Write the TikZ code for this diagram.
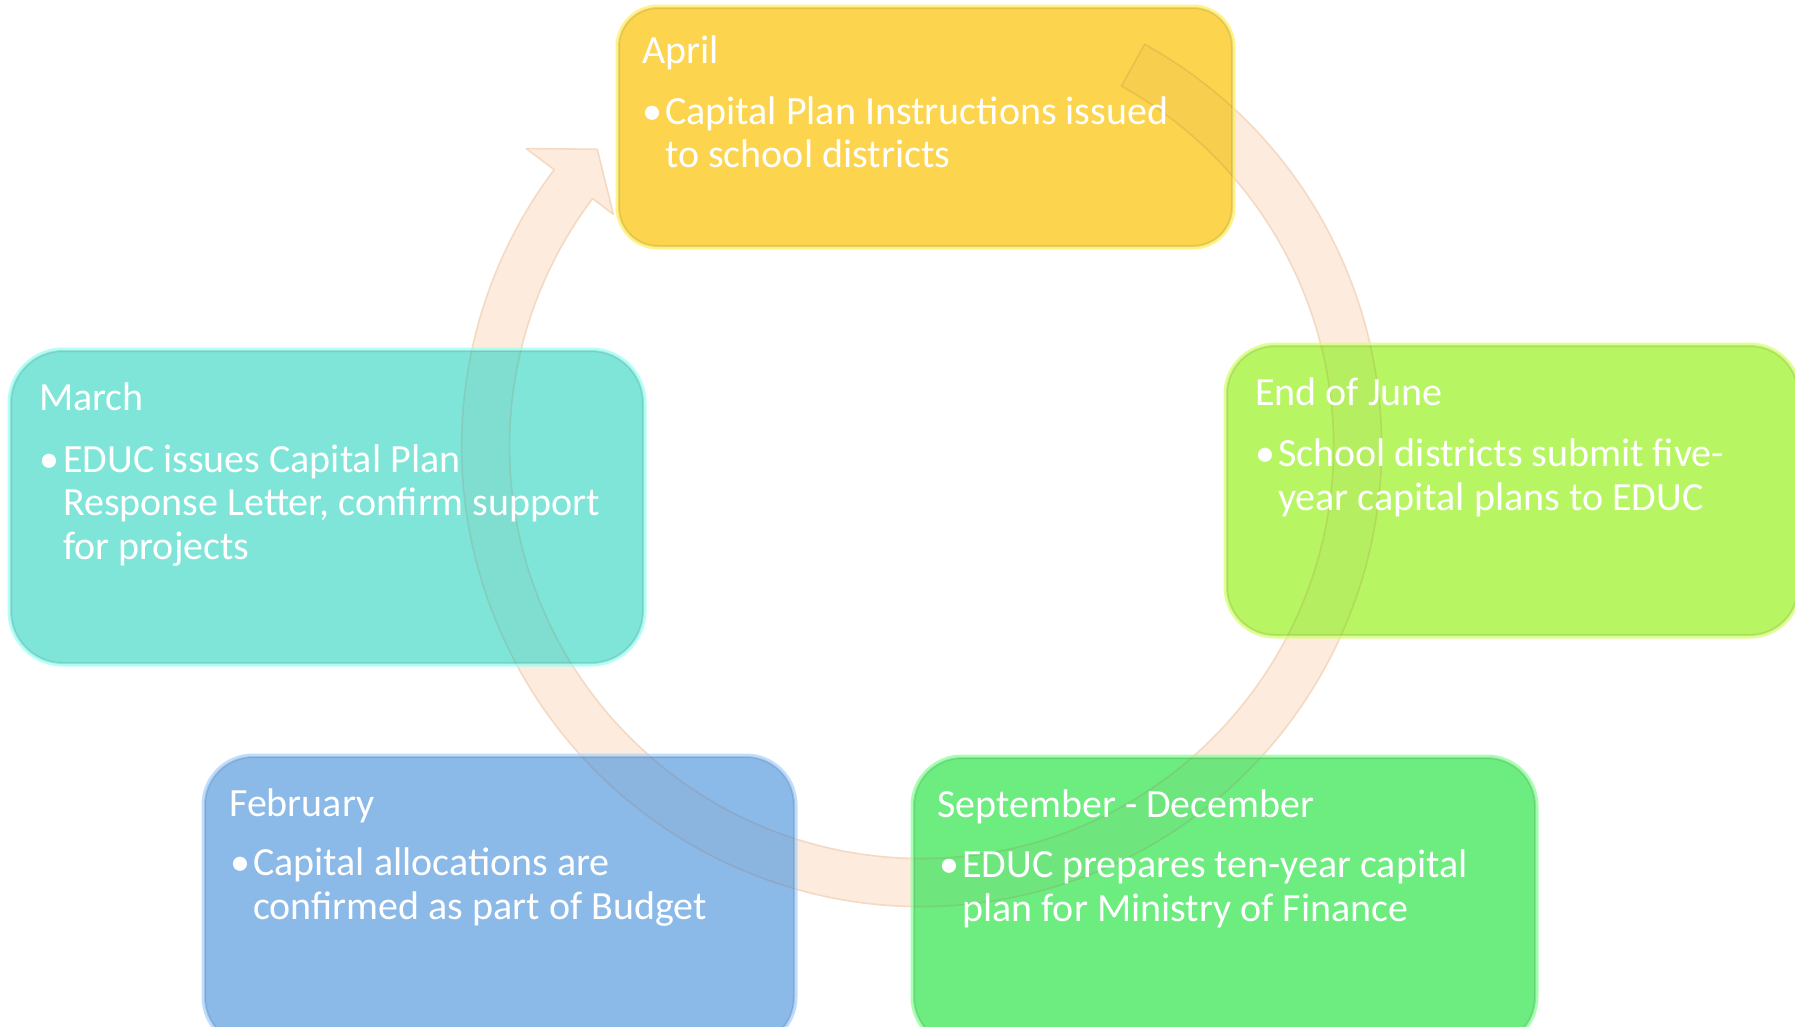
\documentclass[tikz,border=0pt]{standalone}
\usepackage{fontspec}
\setmainfont{Carlito}
\usetikzlibrary{calc}
\definecolor{aprilc}{HTML}{FCD44E}
\definecolor{aprilg}{HTML}{FFEF60}
\definecolor{marchc}{HTML}{7FE5D8}
\definecolor{marchg}{HTML}{98FFF4}
\definecolor{junec}{HTML}{B7F662}
\definecolor{juneg}{HTML}{D6FF70}
\definecolor{sepc}{HTML}{6DEC80}
\definecolor{sepg}{HTML}{8CFF9C}
\definecolor{febc}{HTML}{8BB9E8}
\definecolor{febg}{HTML}{A8D4FF}
\definecolor{arcfill}{HTML}{FDECDE}
\definecolor{arcedge}{HTML}{F4D9C3}
\definecolor{arcdark}{HTML}{9A6A48}
\begin{document}
\begin{tikzpicture}[x=1pt,y=1pt,
  card/.style={fill=#1c, draw=#1c!70!black, draw opacity=0.3, line width=2pt,
    inner sep=0pt, outer sep=0pt,
    preaction={draw=#1g, line width=7pt, draw opacity=0.75}},
  ttl/.style={anchor=base west, inner sep=0pt, text=white, font=\fontsize{40}{44}\selectfont},
  ring/.style={fill=arcfill, draw=arcedge, line width=1.6pt, line join=round}]
\clip (0,0) rectangle (1795,-1026);
\fill[white] (0,0) rectangle (1795,-1026);
\coordinate (C) at (921.6,-446.5);
% circular arrow
\path[ring] ($(C)+(61:460pt)$) arc[start angle=61, end angle=-217, radius=460pt]
  -- ($(C)+(143:495pt)$) -- ($(C)+(137.5:440pt)$) -- ($(C)+(143:386pt)$)
  -- ($(C)+(143:412pt)$) arc[start angle=143, end angle=421, radius=412pt] -- cycle;
% boxes
\node[card=april, rounded corners=39pt, minimum width=613pt, minimum height=238pt] (april) at (925.5,-127) {};
\node[card=march, rounded corners=52pt, minimum width=632pt, minimum height=312pt] (march) at (327,-507) {};
\node[card=june, rounded corners=48pt, minimum width=571pt, minimum height=289pt] (june) at (1512.5,-490.5) {};
\node[card=feb, rounded corners=48pt, minimum width=589pt, minimum height=288pt] (feb) at (499.5,-901) {};
\node[card=sep, rounded corners=48pt, minimum width=621pt, minimum height=287pt] (sep) at (1224.5,-901.5) {};
% arc showing through boxes
\begin{scope}
\clip[rounded corners=39pt] (april.south west) rectangle (april.north east)
  [rounded corners=52pt] (march.south west) rectangle (march.north east)
  [rounded corners=48pt] (june.south west) rectangle (june.north east)
  (feb.south west) rectangle (feb.north east)
  (sep.south west) rectangle (sep.north east);
\path[fill=arcdark, fill opacity=0.05, draw=arcdark, draw opacity=0.16, line width=1.6pt, line join=round]
  ($(C)+(61:460pt)$) arc[start angle=61, end angle=-217, radius=460pt]
  -- ($(C)+(143:495pt)$) -- ($(C)+(137.5:440pt)$) -- ($(C)+(143:386pt)$)
  -- ($(C)+(143:412pt)$) arc[start angle=143, end angle=421, radius=412pt] -- cycle;
\end{scope}
% April
\node[ttl] (aT) at (642,-63) {April};
\node[ttl] (aB) at (642,-124) {•};
\node[ttl] (a1) at (665,-124) {Capital Plan Instructions issued};
\node[ttl] (a2) at (665,-167) {to school districts};
% March
\node[ttl] (mT) at (39,-410) {March};
\node[ttl] (mB) at (39,-472) {•};
\node[ttl] (m1) at (63,-472) {EDUC issues Capital Plan};
\node[ttl] (m2) at (63,-515) {Response Letter, confirm support};
\node[ttl] (m3) at (63,-559) {for projects};
% End of June
\node[ttl] (jT) at (1255,-405) {End of June};
\node[ttl] (jB) at (1255,-466) {•};
\node[ttl] (j1) at (1278,-466) {School districts submit five-};
\node[ttl] (j2) at (1278,-510) {year capital plans to EDUC};
% September - December
\node[ttl] (sT) at (937,-817) {September - December};
\node[ttl] (sB) at (939,-877) {•};
\node[ttl] (s1) at (962,-877) {EDUC prepares ten-year capital};
\node[ttl] (s2) at (962,-921) {plan for Ministry of Finance};
% February
\node[ttl] (fT) at (229,-816) {February};
\node[ttl] (fB) at (230,-875) {•};
\node[ttl] (f1) at (253,-875) {Capital allocations are};
\node[ttl] (f2) at (253,-919) {confirmed as part of Budget};
\end{tikzpicture}
\end{document}
